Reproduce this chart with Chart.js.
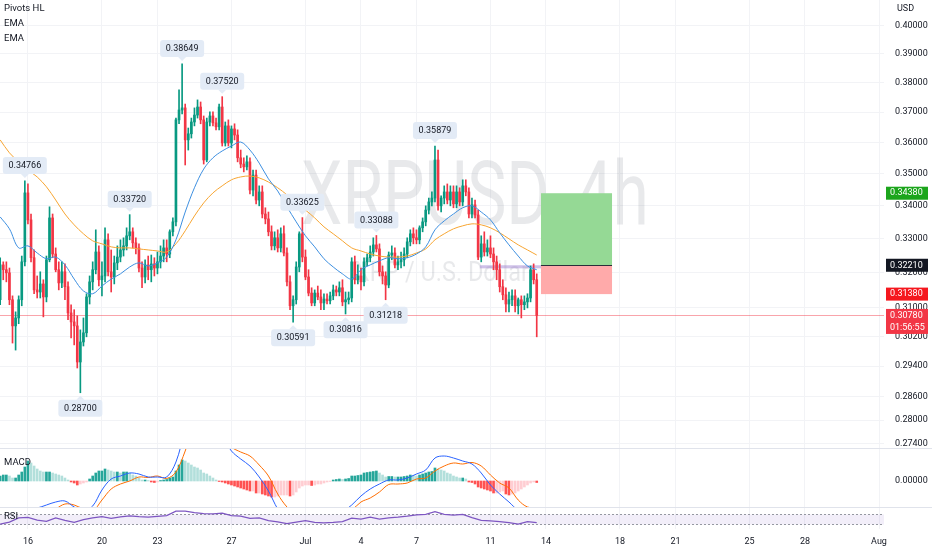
<!DOCTYPE html>
<html>
<head>
<meta charset="utf-8">
<title>XRPUSD 4h</title>
<script src="https://cdn.jsdelivr.net/npm/chart.js@4.4.1/dist/chart.umd.min.js"></script>
<style>
  html, body { margin: 0; padding: 0; background: #ffffff; }
  #wrap { position: relative; width: 932px; height: 550px; overflow: hidden; }
  .pane { position: absolute; left: 0; width: 932px; }
  .sep { position: absolute; left: 0; width: 932px; height: 1px; background: #e0e3eb; }
</style>
</head>
<body>
<div id="wrap">
  <div class="pane" style="top:0;height:448px"><canvas id="priceChart"></canvas></div>
  <div class="sep" style="top:448px"></div>
  <div class="pane" style="top:449px;height:58px"><canvas id="macdChart"></canvas></div>
  <div class="sep" style="top:507px"></div>
  <div class="pane" style="top:508px;height:42px"><canvas id="rsiChart"></canvas></div>
</div>
<script>
const FONT = 'Roboto, "Noto Sans", sans-serif';
Chart.defaults.font.family = FONT;
Chart.defaults.color = '#131722';

// time axis, in days counted from 16 Jun 2022 00:00
const tickDays = [0, 4, 7, 11, 15, 18, 21, 25, 28, 32, 35, 39, 42, 46];
const tickLabels = ['16', '20', '23', '27', 'Jul', '4', '7', '11', '14', '18', '21', '25', '28', 'Aug'];
const viewFrom = -1.51, viewTo = 46.27;

const priceTicks = [0.40, 0.39, 0.38, 0.37, 0.36, 0.35, 0.34, 0.33, 0.32, 0.31, 0.302, 0.294, 0.286, 0.28, 0.274];

// 4h candles, first one 14 Jun 12:00
const firstBar = -1.5;
const opens = [
  0.3122, 0.3222, 0.3208, 0.3199, 0.3122, 0.3049, 0.3071, 0.3122, 0.3231, 0.3439,
  0.3356, 0.3243, 0.3150, 0.3144, 0.3167, 0.3130, 0.3237, 0.3362, 0.3254, 0.3208,
  0.3170, 0.3202, 0.3159, 0.3085, 0.3060, 0.3049, 0.2951, 0.3005, 0.3030, 0.3130,
  0.3173, 0.3208, 0.3260, 0.3179, 0.3190, 0.3296, 0.3202, 0.3187, 0.3228, 0.3245,
  0.3266, 0.3278, 0.3308, 0.3320, 0.3287, 0.3272, 0.3213, 0.3187, 0.3222, 0.3208,
  0.3225, 0.3213, 0.3231, 0.3248, 0.3272, 0.3254, 0.3320, 0.3350, 0.3674, 0.3707,
  0.3714, 0.3608, 0.3628, 0.3667, 0.3690, 0.3717, 0.3674, 0.3543, 0.3667, 0.3687,
  0.3664, 0.3651, 0.3717, 0.3598, 0.3654, 0.3598, 0.3644, 0.3624, 0.3550, 0.3530,
  0.3521, 0.3537, 0.3448, 0.3495, 0.3417, 0.3442, 0.3374, 0.3359, 0.3320, 0.3278,
  0.3302, 0.3272, 0.3314, 0.3257, 0.3173, 0.3105, 0.3122, 0.3216, 0.3314, 0.3245,
  0.3187, 0.3141, 0.3113, 0.3141, 0.3130, 0.3113, 0.3124, 0.3119, 0.3133, 0.3150,
  0.3144, 0.3156, 0.3116, 0.3122, 0.3127, 0.3231, 0.3179, 0.3190, 0.3173, 0.3231,
  0.3243, 0.3260, 0.3281, 0.3269, 0.3202, 0.3190, 0.3164, 0.3251, 0.3257, 0.3222,
  0.3231, 0.3237, 0.3254, 0.3290, 0.3314, 0.3302, 0.3296, 0.3332, 0.3350, 0.3386,
  0.3411, 0.3423, 0.3543, 0.3399, 0.3423, 0.3442, 0.3417, 0.3442, 0.3405, 0.3442,
  0.3411, 0.3461, 0.3442, 0.3374, 0.3402, 0.3371, 0.3245, 0.3284, 0.3260, 0.3272,
  0.3254, 0.3231, 0.3208, 0.3159, 0.3136, 0.3110, 0.3122, 0.3133, 0.3105, 0.3122,
  0.3108, 0.3116, 0.3127, 0.3208, 0.3179
];
const highs = [
  0.3243, 0.3231, 0.3231, 0.3213, 0.3133, 0.3088, 0.3133, 0.3248, 0.3477, 0.3467,
  0.3374, 0.3266, 0.3190, 0.3202, 0.3179, 0.3248, 0.3396, 0.3374, 0.3272, 0.3231,
  0.3231, 0.3225, 0.3173, 0.3108, 0.3094, 0.3077, 0.3038, 0.3071, 0.3139, 0.3190,
  0.3231, 0.3326, 0.3278, 0.3231, 0.3332, 0.3314, 0.3266, 0.3248, 0.3278, 0.3296,
  0.3302, 0.3332, 0.3372, 0.3332, 0.3302, 0.3284, 0.3231, 0.3237, 0.3248, 0.3251,
  0.3243, 0.3260, 0.3278, 0.3296, 0.3296, 0.3326, 0.3362, 0.3680, 0.3775, 0.3865,
  0.3727, 0.3647, 0.3680, 0.3714, 0.3741, 0.3734, 0.3687, 0.3680, 0.3701, 0.3701,
  0.3680, 0.3727, 0.3752, 0.3667, 0.3674, 0.3654, 0.3661, 0.3641, 0.3575, 0.3550,
  0.3556, 0.3550, 0.3511, 0.3511, 0.3461, 0.3461, 0.3393, 0.3380, 0.3338, 0.3320,
  0.3326, 0.3332, 0.3338, 0.3272, 0.3190, 0.3133, 0.3231, 0.3320, 0.3363, 0.3266,
  0.3208, 0.3156, 0.3150, 0.3161, 0.3150, 0.3139, 0.3139, 0.3144, 0.3164, 0.3161,
  0.3173, 0.3179, 0.3144, 0.3144, 0.3243, 0.3248, 0.3222, 0.3213, 0.3243, 0.3254,
  0.3278, 0.3302, 0.3309, 0.3284, 0.3219, 0.3202, 0.3260, 0.3278, 0.3272, 0.3248,
  0.3260, 0.3272, 0.3302, 0.3326, 0.3332, 0.3326, 0.3338, 0.3362, 0.3399, 0.3423,
  0.3442, 0.3588, 0.3575, 0.3430, 0.3461, 0.3467, 0.3461, 0.3461, 0.3461, 0.3455,
  0.3480, 0.3480, 0.3455, 0.3423, 0.3417, 0.3386, 0.3308, 0.3320, 0.3296, 0.3308,
  0.3272, 0.3248, 0.3225, 0.3179, 0.3156, 0.3144, 0.3150, 0.3150, 0.3127, 0.3133,
  0.3133, 0.3139, 0.3219, 0.3225, 0.3196
];
const lows = [
  0.3108, 0.3179, 0.3173, 0.3108, 0.3002, 0.2983, 0.3055, 0.3105, 0.3219, 0.3344,
  0.3231, 0.3139, 0.3127, 0.3127, 0.3074, 0.3116, 0.3231, 0.3243, 0.3202, 0.3150,
  0.3156, 0.3122, 0.3066, 0.3016, 0.2997, 0.2935, 0.2870, 0.2994, 0.3019, 0.3110,
  0.3150, 0.3196, 0.3161, 0.3133, 0.3173, 0.3190, 0.3144, 0.3167, 0.3208, 0.3231,
  0.3248, 0.3266, 0.3296, 0.3272, 0.3254, 0.3202, 0.3156, 0.3170, 0.3179, 0.3173,
  0.3190, 0.3196, 0.3213, 0.3231, 0.3231, 0.3243, 0.3308, 0.3338, 0.3661, 0.3694,
  0.3527, 0.3575, 0.3614, 0.3654, 0.3680, 0.3661, 0.3530, 0.3537, 0.3654, 0.3654,
  0.3641, 0.3641, 0.3588, 0.3588, 0.3588, 0.3582, 0.3608, 0.3537, 0.3518, 0.3505,
  0.3511, 0.3436, 0.3430, 0.3405, 0.3399, 0.3362, 0.3344, 0.3308, 0.3266, 0.3266,
  0.3260, 0.3260, 0.3248, 0.3161, 0.3094, 0.3059, 0.3110, 0.3202, 0.3231, 0.3179,
  0.3133, 0.3105, 0.3105, 0.3122, 0.3094, 0.3094, 0.3110, 0.3110, 0.3122, 0.3133,
  0.3133, 0.3105, 0.3082, 0.3110, 0.3116, 0.3167, 0.3167, 0.3150, 0.3161, 0.3219,
  0.3231, 0.3248, 0.3260, 0.3190, 0.3167, 0.3122, 0.3156, 0.3237, 0.3213, 0.3208,
  0.3213, 0.3219, 0.3243, 0.3278, 0.3284, 0.3284, 0.3284, 0.3320, 0.3338, 0.3374,
  0.3399, 0.3411, 0.3386, 0.3380, 0.3405, 0.3405, 0.3399, 0.3393, 0.3393, 0.3399,
  0.3399, 0.3430, 0.3362, 0.3362, 0.3362, 0.3237, 0.3231, 0.3248, 0.3248, 0.3243,
  0.3208, 0.3179, 0.3144, 0.3122, 0.3088, 0.3088, 0.3105, 0.3088, 0.3082, 0.3071,
  0.3094, 0.3099, 0.3116, 0.3167, 0.3019
];
const closes = [
  0.3222, 0.3208, 0.3199, 0.3122, 0.3049, 0.3071, 0.3122, 0.3231, 0.3439, 0.3356,
  0.3243, 0.3150, 0.3144, 0.3167, 0.3130, 0.3237, 0.3362, 0.3254, 0.3208, 0.3170,
  0.3202, 0.3159, 0.3085, 0.3060, 0.3049, 0.2951, 0.3005, 0.3030, 0.3130, 0.3173,
  0.3208, 0.3260, 0.3179, 0.3190, 0.3296, 0.3202, 0.3187, 0.3228, 0.3245, 0.3266,
  0.3278, 0.3308, 0.3320, 0.3287, 0.3272, 0.3213, 0.3187, 0.3222, 0.3208, 0.3225,
  0.3213, 0.3231, 0.3248, 0.3272, 0.3254, 0.3320, 0.3350, 0.3674, 0.3707, 0.3714,
  0.3608, 0.3628, 0.3667, 0.3690, 0.3717, 0.3674, 0.3543, 0.3667, 0.3687, 0.3664,
  0.3651, 0.3717, 0.3598, 0.3654, 0.3598, 0.3644, 0.3624, 0.3550, 0.3530, 0.3521,
  0.3537, 0.3448, 0.3495, 0.3417, 0.3442, 0.3374, 0.3359, 0.3320, 0.3278, 0.3302,
  0.3272, 0.3314, 0.3257, 0.3173, 0.3105, 0.3122, 0.3216, 0.3314, 0.3245, 0.3187,
  0.3141, 0.3113, 0.3141, 0.3130, 0.3113, 0.3124, 0.3119, 0.3133, 0.3150, 0.3144,
  0.3156, 0.3116, 0.3122, 0.3127, 0.3231, 0.3179, 0.3190, 0.3173, 0.3231, 0.3243,
  0.3260, 0.3281, 0.3269, 0.3202, 0.3190, 0.3164, 0.3251, 0.3257, 0.3222, 0.3231,
  0.3237, 0.3254, 0.3290, 0.3314, 0.3302, 0.3296, 0.3332, 0.3350, 0.3386, 0.3411,
  0.3423, 0.3543, 0.3399, 0.3423, 0.3442, 0.3417, 0.3442, 0.3405, 0.3442, 0.3411,
  0.3461, 0.3442, 0.3374, 0.3402, 0.3371, 0.3245, 0.3284, 0.3260, 0.3272, 0.3254,
  0.3231, 0.3208, 0.3159, 0.3136, 0.3110, 0.3122, 0.3133, 0.3105, 0.3122, 0.3108,
  0.3116, 0.3127, 0.3208, 0.3179, 0.3078
];

// EMAs, MACD lines and RSI read every 3rd candle (12h)
const emaFast = [
  0.3365, 0.3329, 0.3272, 0.3278, 0.3257, 0.3240, 0.3245, 0.3222, 0.3181, 0.3147,
  0.3139, 0.3161, 0.3181, 0.3196, 0.3216, 0.3228, 0.3219, 0.3228, 0.3245, 0.3296,
  0.3380, 0.3455, 0.3514, 0.3550, 0.3572, 0.3588, 0.3601, 0.3575, 0.3533, 0.3483,
  0.3445, 0.3396, 0.3350, 0.3308, 0.3275, 0.3240, 0.3216, 0.3196, 0.3181, 0.3208,
  0.3222, 0.3234, 0.3243, 0.3240, 0.3243, 0.3254, 0.3275, 0.3326, 0.3353, 0.3374,
  0.3393, 0.3399, 0.3380, 0.3356, 0.3317, 0.3281, 0.3248, 0.3219, 0.3208
];
const emaSlow = [
  0.3608, 0.3566, 0.3537, 0.3511, 0.3489, 0.3458, 0.3417, 0.3374, 0.3341, 0.3314,
  0.3293, 0.3284, 0.3275, 0.3272, 0.3272, 0.3269, 0.3266, 0.3263, 0.3260, 0.3284,
  0.3323, 0.3368, 0.3408, 0.3439, 0.3461, 0.3480, 0.3489, 0.3492, 0.3486, 0.3473,
  0.3455, 0.3433, 0.3408, 0.3386, 0.3362, 0.3335, 0.3314, 0.3293, 0.3272, 0.3263,
  0.3254, 0.3248, 0.3245, 0.3245, 0.3248, 0.3257, 0.3269, 0.3296, 0.3314, 0.3329,
  0.3338, 0.3344, 0.3341, 0.3332, 0.3317, 0.3299, 0.3281, 0.3266, 0.3251
];
const macdHist = [
  0.0005, 0.0006, 0.0006, 0.0005, 0.0003, 0.0003, 0.0006, 0.0009, 0.0014, 0.0020,
  0.0018, 0.0015, 0.0012, 0.0010, 0.0009, 0.0009, 0.0009, 0.0008, 0.0007, 0.0006,
  0.0005, 0.0003, 0.0001, -0.0001, -0.0002, -0.0004, -0.0003, -0.0002, -0.0001, 0.0002,
  0.0005, 0.0008, 0.0010, 0.0010, 0.0012, 0.0011, 0.0010, 0.0009, 0.0009, 0.0008,
  0.0009, 0.0009, 0.0008, 0.0006, 0.0005, 0.0003, 0.0001, 0.0001, 0.00005, -0.0001,
  -0.00015, -0.0001, 0.00005, 0.0001, 0.00015, 0.0003, 0.0004, 0.0010, 0.0016, 0.0021,
  0.0020, 0.0018, 0.0016, 0.0014, 0.0013, 0.0011, 0.0008, 0.0007, 0.0005, 0.0003,
  0.0001, -0.00005, -0.0001, -0.0002, -0.0003, -0.0004, -0.0005, -0.0006, -0.0007, -0.0008,
  -0.0009, -0.0010, -0.0010, -0.0012, -0.0012, -0.0013, -0.0014, -0.0015, -0.0016, -0.0016,
  -0.0015, -0.0014, -0.0014, -0.0014, -0.0015, -0.0014, -0.0011, -0.0007, -0.0005, -0.0004,
  -0.0004, -0.00045, -0.0004, -0.0003, -0.0003, -0.0002, -0.0001, -0.00005, 0.0001, 0.00015,
  0.0002, 0.00015, 0.0002, 0.00025, 0.0005, 0.0005, 0.00055, 0.0006, 0.0008, 0.00085,
  0.0009, 0.00095, 0.0010, 0.0008, 0.0006, 0.0004, 0.00045, 0.00045, 0.0004, 0.0004,
  0.0004, 0.00045, 0.0005, 0.0006, 0.00055, 0.0005, 0.0006, 0.0007, 0.0008, 0.0009,
  0.00095, 0.0013, 0.0012, 0.0011, 0.0010, 0.0008, 0.0007, 0.0005, 0.0004, 0.0003,
  0.0003, 0.0002, -0.0001, -0.00015, -0.0003, -0.0006, -0.0007, -0.0008, -0.0009, -0.0010,
  -0.0012, -0.0012, -0.0011, -0.0010, -0.0013, -0.0014, -0.0013, -0.0012, -0.0010, -0.0008,
  -0.0006, -0.0004, -0.0002, -0.0001, -0.00015
];
const macdLine = [
  -0.0048, -0.0046, -0.0042, -0.0028, -0.0027, -0.0024, -0.0021, -0.0020, -0.0026, -0.0030,
  -0.0025, -0.0009, 0.0002, 0.0005, 0.0008, 0.0007, 0.0004, 0.0004, 0.0004, 0.0019,
  0.0050, 0.0070, 0.0072, 0.0062, 0.0045, 0.0030, 0.0022, 0.0015, 0.0004, -0.0010,
  -0.0028, -0.0040, -0.0045, -0.0044, -0.0042, -0.0040, -0.0036, -0.0031, -0.0024, -0.0015,
  -0.0008, -0.0003, 0.0001, 0.0001, 0.0003, 0.0007, 0.0011, 0.0023, 0.0025, 0.0023,
  0.0020, 0.0017, 0.0008, -0.0004, -0.0013, -0.0021, -0.0029, -0.0030, -0.0028
];
const signalLine = [
  -0.0053, -0.0051, -0.0048, -0.0046, -0.0039, -0.0033, -0.0028, -0.0023, -0.0024, -0.0028,
  -0.0030, -0.0019, -0.0008, -0.0003, 0.0000, 0.0004, 0.00035, 0.0005, 0.00025, 0.0009,
  0.0030, 0.0056, 0.0064, 0.0059, 0.0046, 0.0034, 0.0029, 0.0025, 0.0016, 0.0005,
  -0.0013, -0.0026, -0.0034, -0.0040, -0.0038, -0.0038, -0.0037, -0.00325, -0.0029, -0.0021,
  -0.0017, -0.0011, -0.00035, -0.0003, -0.0002, 0.0002, 0.0003, 0.0010, 0.0015, 0.0018,
  0.0017, 0.00185, 0.0015, 0.0006, -0.0002, -0.0007, -0.0019, -0.0026, -0.00265
];
const rsiLine = [
  30, 38, 55, 57, 46, 41, 55, 45, 37, 48,
  55, 60, 53, 59, 63, 60, 58, 61, 64, 82,
  82, 76, 72, 71, 74, 64, 62, 53, 55, 44,
  39, 32, 38, 44, 37, 35, 37, 40, 54, 50,
  58, 50, 55, 58, 62, 67, 69, 80, 69, 66,
  69, 56, 45, 43, 40, 36, 30, 40, 36
];

// Pivots HL: [candle index, price, high?]
const pivots = [
  [8, 0.34766, true], [26, 0.28700, false], [42, 0.33720, true], [59, 0.38649, true],
  [72, 0.37520, true], [95, 0.30591, false], [98, 0.33625, true], [112, 0.30816, false],
  [122, 0.33088, true], [125, 0.31218, false], [141, 0.35879, true]
];

// long position tool and last price
const entryPrice = 0.3221, takeProfit = 0.3438, stopLoss = 0.3138, lastPrice = 0.3078;
const positionFrom = 27.73, positionTo = 31.57, bandFrom = 24.43, bandLow = 0.3212;
const countdown = '01:56:55';

const GREEN = '#089981', RED = '#f23645';
const barDay = i => firstBar + i / 6;
const sampled = arr => arr.map((v, k) => ({ x: barDay(k * 3), y: v }));

function xAxis(showLabels) {
  return {
    type: 'linear', min: viewFrom, max: viewTo, offset: false, bounds: 'data',
    afterBuildTicks: s => { s.ticks = tickDays.map(v => ({ value: v })); },
    ticks: {
      display: showLabels, autoSkip: false, maxRotation: 0, padding: 7,
      color: '#131722', font: { size: 9 },
      callback: (v, i) => tickLabels[i]
    },
    grid: { color: '#f2f3f6', drawTicks: false, offset: false },
    border: { display: false },
    afterFit: s => { s.height = showLabels ? 21 : 0; s.paddingLeft = 0; s.paddingRight = 0; }
  };
}
function fixWidth(s) { s.width = 48; s.paddingTop = 0; s.paddingBottom = 0; }

function label(ctx, text, x, y, size, color, align) {
  ctx.font = size + 'px ' + FONT;
  ctx.fillStyle = color;
  ctx.textAlign = align || 'left';
  ctx.textBaseline = 'middle';
  ctx.fillText(text, x, y);
}

function drawPivot(ctx, cx, tipY, text, above) {
  const w = 44, h = 17, gap = 7;
  const top = above ? tipY - gap - h : tipY + gap;
  ctx.fillStyle = '#e3ebf6';
  ctx.beginPath();
  ctx.roundRect(cx - w / 2, top, w, h, 3);
  ctx.fill();
  ctx.beginPath();
  if (above) { ctx.moveTo(cx - 4, top + h); ctx.lineTo(cx + 4, top + h); ctx.lineTo(cx, top + h + 4); }
  else { ctx.moveTo(cx - 4, top); ctx.lineTo(cx + 4, top); ctx.lineTo(cx, top - 4); }
  ctx.fill();
  label(ctx, text, cx, top + h / 2 + 0.5, 9, '#131722', 'center');
}

function badge(ctx, yc, lines, bg) {
  const x = 886, w = 42, lh = 12;
  ctx.fillStyle = bg;
  ctx.fillRect(x, yc - lh / 2 - 0.5, w, lines.length * lh + 1);
  lines.forEach((t, k) => label(ctx, t, x + 4, yc + k * lh, 9, '#ffffff'));
}

const priceOverlay = {
  id: 'priceOverlay',
  beforeDatasetsDraw(chart) {
    const { ctx, chartArea: a, scales: { x, y } } = chart;
    ctx.save();
    // watermark
    ctx.fillStyle = 'rgba(120,123,134,0.17)';
    ctx.textAlign = 'center';
    ctx.textBaseline = 'alphabetic';
    ctx.save();
    ctx.translate(475, 224);
    ctx.scale(0.74, 1);
    ctx.font = '89px ' + FONT;
    ctx.fillText('XRPUSD, 4h', 0, 0);
    ctx.restore();
    ctx.save();
    ctx.translate(442, 281);
    ctx.scale(0.84, 1);
    ctx.font = '28px ' + FONT;
    ctx.fillText('XRP / U.S. Dollar', 0, 0);
    ctx.restore();

    // long position tool
    const x0 = x.getPixelForValue(positionFrom), x1 = x.getPixelForValue(positionTo);
    const yT = y.getPixelForValue(takeProfit), yE = y.getPixelForValue(entryPrice), yS = y.getPixelForValue(stopLoss);
    ctx.fillStyle = '#95d995';
    ctx.fillRect(x0, yT, x1 - x0, yE - yT);
    ctx.fillStyle = '#ffaaaa';
    ctx.fillRect(x0, yE, x1 - x0, yS - yE);
    ctx.strokeStyle = '#2a2e39';
    ctx.lineWidth = 1;
    ctx.beginPath();
    ctx.moveTo(x0, Math.round(yE) + 0.5);
    ctx.lineTo(x1, Math.round(yE) + 0.5);
    ctx.stroke();
    const xb = x.getPixelForValue(bandFrom);
    ctx.fillStyle = 'rgba(149,117,205,0.45)';
    ctx.fillRect(xb, yE, x0 - xb, y.getPixelForValue(bandLow) - yE);

    // last price line
    const yL = Math.round(y.getPixelForValue(lastPrice)) + 0.5;
    ctx.strokeStyle = 'rgba(242,54,69,0.45)';
    ctx.beginPath();
    ctx.moveTo(a.left, yL);
    ctx.lineTo(a.right, yL);
    ctx.stroke();
    ctx.restore();
  },
  afterDatasetsDraw(chart) {
    const { ctx, scales: { x, y } } = chart;
    ctx.save();
    pivots.forEach(([i, p, hi]) => {
      drawPivot(ctx, x.getPixelForValue(barDay(i)), y.getPixelForValue(p), p.toFixed(5), hi);
    });
    ctx.restore();
  },
  afterDraw(chart) {
    const { ctx, scales: { y } } = chart;
    ctx.save();
    label(ctx, 'Pivots HL', 4, 9, 9.5, '#131722');
    label(ctx, 'EMA', 4, 24, 9.5, '#131722');
    label(ctx, 'EMA', 4, 39, 9.5, '#131722');
    label(ctx, 'USD', 897, 9, 9, '#131722');
    badge(ctx, y.getPixelForValue(takeProfit), [takeProfit.toFixed(5)], '#1ca51c');
    badge(ctx, y.getPixelForValue(entryPrice), [entryPrice.toFixed(5)], '#131722');
    badge(ctx, y.getPixelForValue(stopLoss), [stopLoss.toFixed(5)], '#f5171e');
    badge(ctx, y.getPixelForValue(lastPrice), [lastPrice.toFixed(5), countdown], '#f23645');
    ctx.restore();
  }
};

const candleColor = c => closes[c.dataIndex] >= opens[c.dataIndex] ? GREEN : RED;

new Chart(document.getElementById('priceChart'), {
  type: 'bar',
  data: {
    datasets: [
      { type: 'line', data: sampled(emaFast), borderColor: '#3d8fe0', borderWidth: 1, pointRadius: 0, tension: 0.35, order: 0 },
      { type: 'line', data: sampled(emaSlow), borderColor: '#f7a531', borderWidth: 1, pointRadius: 0, tension: 0.35, order: 0 },
      { data: opens.map((o, i) => ({ x: barDay(i), y: [o, closes[i]] })), backgroundColor: candleColor,
        barThickness: 2, grouped: false, minBarLength: 1, order: 1 },
      { data: lows.map((l, i) => ({ x: barDay(i), y: [l, highs[i]] })), backgroundColor: candleColor,
        barThickness: 1, grouped: false, order: 2 }
    ]
  },
  options: {
    responsive: true, maintainAspectRatio: false, animation: false, events: [],
    layout: { padding: 0 },
    plugins: { legend: { display: false }, tooltip: { enabled: false } },
    scales: {
      x: xAxis(false),
      y: {
        type: 'logarithmic', position: 'right', min: 0.2730, max: 0.4095, bounds: 'data',
        afterBuildTicks: s => { s.ticks = priceTicks.map(v => ({ value: v })); },
        ticks: { autoSkip: false, padding: 11, color: '#131722', font: { size: 9 }, callback: v => Number(v).toFixed(5) },
        grid: { color: '#f2f3f6', drawTicks: false },
        border: { display: false },
        afterFit: fixWidth
      }
    }
  },
  plugins: [priceOverlay]
});

function histColor(i) {
  const v = macdHist[i], prev = i > 0 ? macdHist[i - 1] : v;
  if (v >= 0) return v >= prev ? '#26a69a' : '#b2dfdb';
  return v < prev ? '#ff5252' : '#ffcdd2';
}

new Chart(document.getElementById('macdChart'), {
  type: 'bar',
  data: {
    datasets: [
      { type: 'line', data: sampled(macdLine), borderColor: '#2962ff', borderWidth: 1, pointRadius: 0, tension: 0.35, order: 0 },
      { type: 'line', data: sampled(signalLine), borderColor: '#ff6d00', borderWidth: 1, pointRadius: 0, tension: 0.35, order: 0 },
      { data: macdHist.map((v, i) => ({ x: barDay(i), y: v })), backgroundColor: c => histColor(c.dataIndex),
        barThickness: 2, grouped: false, order: 1 }
    ]
  },
  options: {
    responsive: true, maintainAspectRatio: false, animation: false, events: [],
    layout: { padding: 0 },
    plugins: { legend: { display: false }, tooltip: { enabled: false } },
    scales: {
      x: xAxis(false),
      y: {
        type: 'linear', position: 'right', min: -0.0026, max: 0.0032, bounds: 'data',
        afterBuildTicks: s => { s.ticks = [{ value: 0 }]; },
        ticks: { padding: 11, color: '#131722', font: { size: 9 }, callback: () => '0.00000' },
        grid: { display: false, drawTicks: false },
        border: { display: false },
        afterFit: fixWidth
      }
    }
  },
  plugins: [{
    id: 'macdTitle',
    afterDraw(chart) { label(chart.ctx, 'MACD', 4, 14, 9.5, '#131722'); }
  }]
});

new Chart(document.getElementById('rsiChart'), {
  type: 'line',
  data: {
    datasets: [
      { data: sampled(rsiLine), borderColor: '#7e57c2', borderWidth: 1.2, pointRadius: 0, tension: 0 }
    ]
  },
  options: {
    responsive: true, maintainAspectRatio: false, animation: false, events: [],
    layout: { padding: 0 },
    plugins: { legend: { display: false }, tooltip: { enabled: false } },
    scales: {
      x: xAxis(true),
      y: {
        type: 'linear', position: 'right', min: 10, max: 95, bounds: 'data',
        ticks: { display: false },
        grid: { display: false, drawTicks: false },
        border: { display: false },
        afterFit: fixWidth
      }
    }
  },
  plugins: [{
    id: 'rsiBand',
    beforeDatasetsDraw(chart) {
      const { ctx, chartArea: a, scales: { y } } = chart;
      const y70 = Math.round(y.getPixelForValue(70)) + 0.5, y30 = Math.round(y.getPixelForValue(30)) + 0.5;
      ctx.save();
      ctx.fillStyle = 'rgba(126,87,194,0.1)';
      ctx.fillRect(a.left, y70, a.right - a.left, y30 - y70);
      ctx.strokeStyle = '#9598a1';
      ctx.setLineDash([2, 2]);
      ctx.lineWidth = 1;
      [y70, y30].forEach(v => { ctx.beginPath(); ctx.moveTo(a.left, v); ctx.lineTo(a.right, v); ctx.stroke(); });
      ctx.restore();
    },
    afterDraw(chart) { label(chart.ctx, 'RSI', 4, 9, 9.5, '#131722'); }
  }]
});
</script>
</body>
</html>
